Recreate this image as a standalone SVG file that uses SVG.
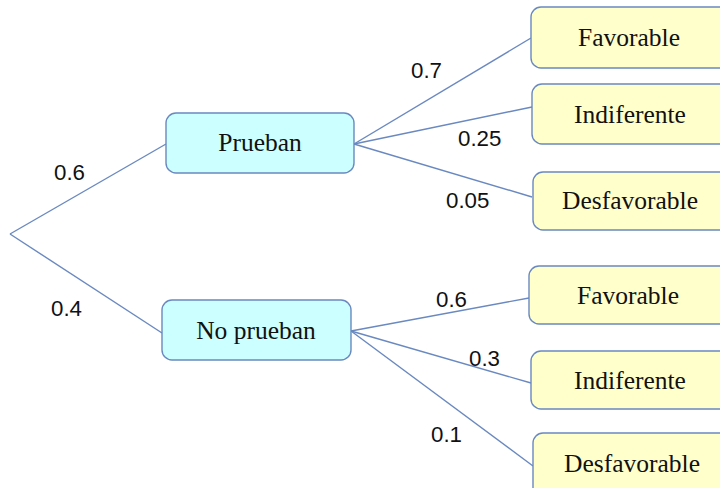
<svg xmlns="http://www.w3.org/2000/svg" width="720" height="488" viewBox="0 0 720 488">
<style>
.bg{fill:#ffffff}
.edge{stroke:#6a89c0;stroke-width:1.4;fill:none}
.cyan{fill:#ccffff;stroke:#6a89c0;stroke-width:1.4}
.yel{fill:#ffffcc;stroke:#6a89c0;stroke-width:1.4}
.nt{font-family:"Liberation Serif","Times New Roman",serif;font-size:25.5px;fill:#111111;text-anchor:middle}
.lb{font-family:"Liberation Sans",Arial,sans-serif;font-size:22.3px;fill:#111111}
</style>
<rect class="bg" x="0" y="0" width="720" height="488"/>
<g id="connectors">
<line class="edge" x1="10" y1="234" x2="166" y2="144"/>
<line class="edge" x1="10" y1="234" x2="162" y2="333"/>
<line class="edge" x1="354" y1="144" x2="531" y2="38"/>
<line class="edge" x1="354" y1="144" x2="532" y2="107"/>
<line class="edge" x1="354" y1="144" x2="532" y2="197"/>
<line class="edge" x1="351" y1="331" x2="529" y2="298"/>
<line class="edge" x1="351" y1="331" x2="531" y2="383"/>
<line class="edge" x1="351" y1="331" x2="533" y2="466"/>
</g>
<g id="labels">
<text class="lb" x="54" y="180">0.6</text>
<text class="lb" x="51" y="316">0.4</text>
<text class="lb" x="411" y="78">0.7</text>
<text class="lb" x="458" y="146">0.25</text>
<text class="lb" x="446" y="208">0.05</text>
<text class="lb" x="436" y="307">0.6</text>
<text class="lb" x="469" y="366">0.3</text>
<text class="lb" x="431" y="442">0.1</text>
</g>
<g id="prueban">
<rect class="cyan" x="166" y="113" width="188" height="60" rx="10"/>
<text class="nt" x="260" y="151">Prueban</text>
</g>
<g id="no-prueban">
<rect class="cyan" x="162" y="300" width="189" height="60" rx="10"/>
<text class="nt" x="256" y="339">No prueban</text>
</g>
<g id="favorable-1">
<rect class="yel" x="531" y="7" width="200" height="61" rx="10"/>
<text class="nt" x="629" y="46">Favorable</text>
</g>
<g id="indiferente-1">
<rect class="yel" x="532" y="84" width="200" height="60" rx="10"/>
<text class="nt" x="630" y="123">Indiferente</text>
</g>
<g id="desfavorable-1">
<rect class="yel" x="533" y="172" width="200" height="58" rx="10"/>
<text class="nt" x="630" y="209">Desfavorable</text>
</g>
<g id="favorable-2">
<rect class="yel" x="529" y="266" width="200" height="58" rx="10"/>
<text class="nt" x="628" y="304">Favorable</text>
</g>
<g id="indiferente-2">
<rect class="yel" x="531" y="351" width="200" height="58" rx="10"/>
<text class="nt" x="630" y="389">Indiferente</text>
</g>
<g id="desfavorable-2">
<rect class="yel" x="533" y="433" width="200" height="70" rx="10"/>
<text class="nt" x="632" y="472">Desfavorable</text>
</g>
</svg>
